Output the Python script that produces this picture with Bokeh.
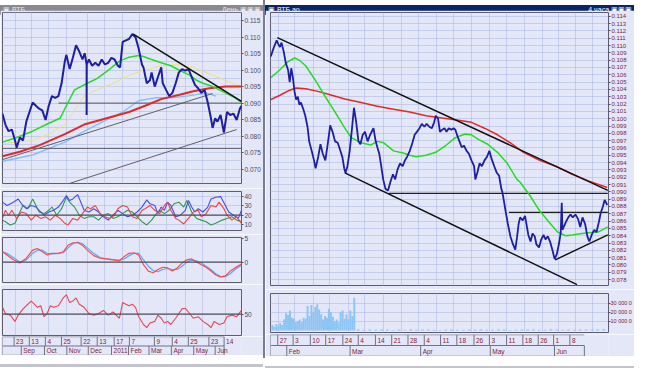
from bokeh.plotting import figure
from bokeh.models import Range1d, LinearAxis, FixedTicker, Grid, Span, Label, Div, NumeralTickFormatter
from bokeh.layouts import row, column
from bokeh.embed import file_html
from bokeh.resources import INLINE
from bokeh.core.properties import value

# ======================= DATA =======================
# ---- left window: daily chart (x = bar index) ----
L_PRICE = [(0,0.0868),(3,0.0835),(6.3,0.0815),(9.7,0.0820),(13,0.0787),(14.7,0.0765),(18,0.0796),(21.3,0.0787),
           (24.7,0.0844),(28,0.0873),(31.3,0.0902),(34.7,0.0892),(38,0.0883),(41.3,0.0878),(44.7,0.0849),(48,0.0892),
           (51.3,0.0921),(54.7,0.0916),(58,0.0921),(61.3,0.0960),(64.7,0.1027),(66.3,0.1046),(69.7,0.1003),(73,0.1037),
           (76.3,0.1075),(79.7,0.1056),(83,0.1032),(85.3,0.1051),(87.3,0.1017),(87.3,0.0864),(87.4,0.1017),(89.7,0.1032),
           (93,0.1013),(96.3,0.1022),(99.7,0.1013),(103,0.1032),(106.3,0.1017),(109.7,0.1022),(113,0.1037),(116.3,0.1032),
           (119.7,0.1013),(122,0.1008),(124.7,0.1085),(128,0.1090),(131.3,0.1094),(134.7,0.1109),(138,0.1099),(141.3,0.1065),
           (144.7,0.1017),(146.3,0.1008),(149.7,0.0960),(153,0.0969),(154.7,0.0993),(158,0.0950),(161.3,0.0979),(164.7,0.1008),
           (166.3,0.0960),(169.7,0.0940),(173,0.0921),(176.3,0.0931),(179.7,0.0960),(183,0.0993),(186.3,0.1003),(189.7,0.0998),
           (193,0.1003),(196.3,0.0979),(199.7,0.0955),(203,0.0945),(206.3,0.0931),(209.7,0.0940),(213,0.0902),(216.3,0.0854),
           (218,0.0825),(220.7,0.0854),(223,0.0844),(226.3,0.0864),(229.7,0.0811),(233,0.0873),(236.3,0.0864),(239.7,0.0868),
           (243,0.0849),(246.3,0.0883),(248,0.0892)]
L_GREEN = [(0,0.0782),(14.7,0.0796),(31.3,0.0815),(48,0.0839),(59.7,0.0854),(64.7,0.0883),(74.7,0.0940),(88,0.0960),
           (98,0.0974),(111.3,0.1003),(121.3,0.1027),(131.3,0.1039),(141.3,0.1044),(146.3,0.1041),(154.7,0.1032),
           (164.7,0.1022),(174.7,0.1013),(184.7,0.0998),(194.7,0.0984),(201.3,0.0969),(208,0.0960),(218,0.0950),
           (231.3,0.0931),(241.3,0.0916),(248,0.0902)]
L_YELLOW = [(0,0.0777),(14.7,0.0782),(31.3,0.0787),(48,0.0806),(64.7,0.0835),(74.7,0.0878),(84.7,0.0921),(98,0.0940),
            (114.7,0.0960),(131.3,0.0984),(144.7,0.0998),(164.7,0.1013),(184.7,0.1017),(198,0.1008),(214.7,0.0989),
            (231.3,0.0969),(248,0.0950)]
L_LBLUE = [(0,0.0724),(31.3,0.0743),(64.7,0.0782),(88,0.0820),(108,0.0849),(124.7,0.0873),(141.3,0.0907),(158,0.0916),
           (174.7,0.0916),(191.3,0.0921),(211.3,0.0931),(221.3,0.0921)]
L_RED = [(0,0.0739),(18,0.0753),(38,0.0772),(64.7,0.0806),(84.7,0.0835),(108,0.0854),(131.3,0.0873),(148,0.0892),
         (164.7,0.0912),(184.7,0.0926),(198,0.0936),(214.7,0.0945),(231.3,0.0950),(248,0.0950)]
L_RESIST = [(135.7, 0.1109, 248, 0.0905)]
L_SUPPORTS = [(0, 0.0729, 218, 0.0929), (69.7, 0.0657, 243, 0.0820)]
L_HLINES = [(58, 248, 0.0900), (0, 248, 0.0763)]
L_LAST = 0.08832
L_PRICE_TICKS = [0.070, 0.075, 0.080, 0.085, 0.090, 0.095, 0.100, 0.105, 0.110, 0.115]

O1_BLUE = [(0,33.8),(4.7,30.3),(11.3,33.8),(16.3,37.2),(19.7,32.1),(24.7,26.9),(29.7,30.3),(34.7,28.6),(38,25.2),(43,20),
           (48,23.4),(53,25.2),(58,28.6),(63,35.5),(66.3,40.7),(69.7,35.5),(73,37.2),(78,41.7),(81.3,33.8),(84.7,25.2),
           (89.7,23.4),(94.7,26.9),(99.7,23.4),(104.7,18.3),(109.7,14.8),(114.7,20),(119.7,25.2),(124.7,21.7),(129.7,18.3),
           (134.7,20),(139.7,23.4),(144.7,28.6),(149.7,36.2),(153,32.1),(158,30.3),(161.3,21.7),(164.7,28.6),(168,25.2),
           (171.3,33.8),(174.7,30.3),(179.7,18.3),(184.7,20),(189.7,25.2),(193,35.5),(196.3,28.6),(199.7,23.4),(203,26.9),
           (208,23.4),(213,28.6),(216.3,37.2),(221.3,39),(226.3,39.7),(231.3,30.3),(234.7,23.4),(239.7,20),(244.7,16.6),(248,25.2)]
O1_RED = [(0,16.6),(3,25.2),(6.3,20),(9.7,25.2),(14.7,16.6),(19.7,23.4),(24.7,21.7),(29.7,14.8),(34.7,20),(39.7,16.6),
          (44.7,18.3),(49.7,14.8),(54.7,20),(59.7,16.6),(64.7,11.4),(68,9.7),(73,16.6),(78,14.8),(83,21.7),(88,28.6),
          (91.3,26.9),(96.3,30.3),(101.3,21.7),(106.3,18.3),(111.3,16.6),(116.3,20),(119.7,26.9),(124.7,30.3),(129.7,28.6),
          (134.7,18.3),(139.7,16.6),(144.7,25.2),(148,26.9),(153,30.3),(158,25.2),(163,21.7),(168,30.3),(171.3,33.8),
          (174.7,25.2),(179.7,16.6),(183,14.8),(188,10.7),(193,16.6),(198,23.4),(203,25.2),(206.3,18.3),(211.3,21.7),
          (216.3,30.3),(221.3,28.6),(224.7,33.8),(229.7,26.9),(233,20),(238,14.8),(243,18.3),(248,11.4)]
O1_GREEN = [(0,14.8),(3,13.1),(8,9.7),(13,11.4),(18,23.4),(21.3,30.3),(26.3,26.9),(31.3,37.2),(34.7,30.3),(38,23.4),
            (43,21.7),(48,25.2),(51.3,28.6),(56.3,20),(61.3,26.9),(66.3,39),(69.7,33.8),(74.7,28.6),(79.7,20),(84.7,16.6),
            (89.7,18.3),(94.7,18.3),(99.7,14.8),(104.7,20),(109.7,21.7),(114.7,16.6),(119.7,18.3),(124.7,21.7),(129.7,25.2),
            (134.7,23.4),(139.7,18.3),(144.7,13.1),(149.7,9.7),(154.7,14.8),(159.7,21.7),(163,25.2),(168,21.7),(173,25.2),
            (178,32.1),(183,33.8),(188,28.6),(191.3,35.5),(196.3,23.4),(201.3,16.6),(206.3,14.8),(211.3,13.1),(216.3,9.7),
            (221.3,11.4),(228,14.8),(233,16.6),(238,18.3),(243,14.8),(248,13.1)]
O1_LEVEL = 20
O1_TICKS = [10, 20, 30, 40]

O2_RED = [(0,2.22),(4.7,1.53),(11.3,0.49),(18,-0.21),(24.7,0.83),(31.3,2.57),(36.3,2.92),(41.3,2.22),(46.3,1.53),
          (51.3,1.88),(58,1.88),(63,2.22),(68,3.61),(73,4.17),(78,4.17),(83,3.61),(88,2.57),(94.7,1.39),(101.3,0.83),
          (108,0.69),(114.7,0.49),(121.3,0.28),(126.3,1.18),(131.3,1.88),(136.3,2.01),(141.3,1.53),(146.3,-0.56),
          (151.3,-1.94),(156.3,-2.29),(161.3,-1.60),(166.3,-1.11),(171.3,-1.25),(176.3,-1.94),(181.3,-1.25),(186.3,-0.21),
          (191.3,0.49),(196.3,0.69),(201.3,0),(206.3,-0.56),(211.3,-1.11),(216.3,-1.94),(221.3,-2.78),(226.3,-3.19),
          (231.3,-2.99),(236.3,-1.94),(241.3,-1.25),(248,-0.42)]
O2_BLUE = [(0,2.22),(4.7,1.88),(11.3,0.97),(18,0),(24.7,0.49),(31.3,1.88),(36.3,2.57),(41.3,2.57),(46.3,1.88),
           (51.3,1.74),(58,1.88),(63,2.01),(68,3.06),(73,3.96),(78,4.31),(83,3.96),(88,3.06),(94.7,1.88),(101.3,0.97),
           (108,0.69),(114.7,0.56),(121.3,0.42),(126.3,0.69),(131.3,1.39),(136.3,1.88),(141.3,1.88),(146.3,0.49),
           (151.3,-0.90),(156.3,-1.81),(161.3,-2.08),(166.3,-1.60),(171.3,-1.39),(176.3,-1.60),(181.3,-1.60),(186.3,-0.90),
           (191.3,0),(196.3,0.42),(201.3,0.28),(206.3,-0.21),(211.3,-0.90),(216.3,-1.60),(221.3,-2.50),(226.3,-3.13),
           (231.3,-3.13),(236.3,-2.50),(241.3,-1.60),(248,-0.69)]
O2_LEVEL = 0
O2_TICKS = [0, 5]

O3_RED = [(0,65),(3,51.4),(8,48),(13,34.4),(16.3,48),(21.3,61.6),(24.7,68.4),(29.7,78.6),(33,71.8),(36.3,65),(39.7,68.4),
          (43,44.6),(46.3,51.4),(49.7,68.4),(53,65),(58,68.4),(63,85.4),(66.3,92.2),(69.7,75.2),(73,78.6),(76.3,85.4),
          (79.7,71.8),(84.7,65),(89.7,51.4),(94.7,48),(99.7,51.4),(104.7,58.2),(109.7,48),(114.7,54.8),(118,48),(121.3,41.2),
          (124.7,75.2),(128,71.8),(131.3,68.4),(134.7,71.8),(138,65),(141.3,44.6),(146.3,27.6),(149.7,20.7),(153,31),
          (158,34.4),(161.3,48),(164.7,41.2),(168,31),(171.3,34.4),(174.7,27.6),(179.7,41.2),(183,51.4),(186.3,61.6),
          (189.7,62.9),(193,54.8),(198,41.2),(203,44.6),(208,34.4),(213,27.6),(216.3,20.7),(219.7,34.4),(224.7,27.6),
          (229.7,31),(233,44.6),(238,48),(243,44.6),(248,58.2)]
O3_LEVEL = 50
O3_TICKS = [50]

L_DAY_TICKS = [13, 30, 48, 66, 88, 106, 125, 142, 170, 190, 208, 231, 248]
L_DAY_LABELS = ["23", "13", "4", "25", "22", "13", "17", "7", "9", "4", "25", "23", "14"]
L_MON_TICKS = [21, 47, 72, 96, 122, 141, 164, 189, 214, 238]
L_MON_LABELS = ["Sep", "Oct", "Nov", "Dec", "2011", "Feb", "Mar", "Apr", "May", "Jun"]

# ---- right window: 4-hour chart (x = bar index) ----
R_PRICE = [(0.3,0.1085),(3,0.1096),(6.3,0.1107),(8,0.1102),(9.7,0.1098),(11.3,0.1104),(13.7,0.1091),(15.7,0.1076),
           (18,0.1067),(19.7,0.1050),(21.3,0.1069),(23,0.1056),(24.7,0.1037),(26.3,0.1026),(28,0.1030),(29.7,0.1019),
           (31.3,0.1022),(33.7,0.1013),(35.7,0.1004),(38,0.0989),(39.7,0.0969),(42.3,0.0956),(44.7,0.0943),(46.3,0.0932),
           (49,0.0948),(51.3,0.0965),(53.7,0.0952),(56.3,0.0943),(58.7,0.0965),(61.3,0.0991),(63.7,0.0982),(66.3,0.0969),
           (69,0.0967),(71.3,0.0958),(73.7,0.0948),(75.7,0.0932),(77,0.0926),(79,0.0935),(81.3,0.0956),(83.7,0.0987),
           (85.7,0.1015),(88,0.0995),(90.3,0.0969),(92.3,0.0965),(94.7,0.0978),(97,0.0982),(99.7,0.0969),(102.3,0.0978),
           (105.7,0.0987),(108,0.0969),(109.7,0.0961),(111.7,0.0952),(113.7,0.0935),(115.7,0.0917),(118,0.0904),
           (120.7,0.0902),(123,0.0913),(125.7,0.0924),(128,0.0917),(130.3,0.0930),(133,0.0939),(135.7,0.0935),(138,0.0943),
           (140.3,0.0948),(143,0.0956),(145.7,0.0967),(148,0.0978),(150.3,0.0982),(153,0.0987),(155.3,0.0993),(158,0.0989),
           (160.3,0.0993),(163,0.0989),(165.7,0.0987),(168,0.0995),(169.7,0.1004),(172,0.1000),(174,0.0982),(176.3,0.0985),
           (178.7,0.0987),(180.7,0.0982),(183,0.0987),(185.7,0.0985),(188,0.0987),(189.7,0.0985),(192,0.0976),(194,0.0969),
           (196.3,0.0961),(198.7,0.0963),(201.3,0.0956),(203.7,0.0952),(206.3,0.0943),(209,0.0935),(210.3,0.0917),
           (212.3,0.0926),(214.7,0.0939),(217,0.0935),(219.7,0.0943),(222.3,0.0948),(224.7,0.0956),(227,0.0945),
           (229.7,0.0935),(232.3,0.0926),(234.7,0.0922),(237,0.0904),(238,0.0900),(239.7,0.0887),(241.3,0.0874),
           (243.7,0.0856),(246.3,0.0839),(249,0.0828),(251.3,0.0821),(253,0.0837),(254.7,0.0856),(256.3,0.0865),
           (259,0.0861),(261.3,0.0867),(263,0.0854),(264.7,0.0841),(267,0.0832),(269,0.0843),(271.3,0.0839),(273,0.0828),
           (275.7,0.0824),(278,0.0835),(280.3,0.0841),(282.3,0.0835),(284.7,0.0839),(287,0.0832),(289.7,0.0819),
           (291.7,0.0808),(294,0.0815),(296.3,0.0830),(298,0.0845),(299,0.0885),(299.7,0.0848),(303,0.0858),(305.7,0.0865),
           (308,0.0869),(310.3,0.0865),(313,0.0869),(315.7,0.0863),(318,0.0852),(320.3,0.0865),(323,0.0856),(325.3,0.0839),
           (327.3,0.0832),(329.7,0.0841),(332.3,0.0848),(334.7,0.0845),(337,0.0858),(339,0.0871),(341.3,0.0880),
           (343,0.0889),(345.7,0.0882)]
R_GREEN = [(0.3,0.1056),(9.7,0.1067),(18,0.1078),(24.7,0.1083),(29.7,0.1080),(36.3,0.1072),(46.3,0.1052),(56.3,0.1030),
           (66.3,0.1009),(76.3,0.0987),(83,0.0974),(93,0.0967),(103,0.0964),(109.7,0.0969),(116.3,0.0967),(126.3,0.0956),
           (136.3,0.0953),(143,0.0950),(149.7,0.0948),(159.7,0.0950),(169.7,0.0954),(179.7,0.0963),(189.7,0.0974),
           (199.7,0.0979),(206.3,0.0978),(213,0.0972),(223,0.0965),(233,0.0954),(243,0.0939),(253,0.0917),(256.3,0.0913),
           (266.3,0.0895),(276.3,0.0874),(286.3,0.0858),(294.7,0.0845),(303,0.0840),(309.7,0.0841),(319.7,0.0843),
           (326.3,0.0844),(336.3,0.0845),(346.3,0.0852)]
R_RED = [(0.3,0.1026),(9.7,0.1032),(19.7,0.1039),(26.3,0.1042),(36.3,0.1041),(49.7,0.1037),(63,0.1032),(76.3,0.1027),
         (93,0.1022),(109.7,0.1017),(126.3,0.1013),(143,0.1009),(159.7,0.1004),(176.3,0.1001),(193,0.0998),(206.3,0.0995),
         (219.7,0.0987),(233,0.0978),(246.3,0.0967),(259.7,0.0954),(276.3,0.0943),(293,0.0935),(309.7,0.0924),
         (326.3,0.0915),(345.7,0.0906)]
R_LINES = [(7, 0.1111, 346.3, 0.0902), (76.3, 0.0926, 314.7, 0.0773), (292.3, 0.0807, 346.3, 0.0841)]
R_HLINES = [(121.3, 346.3, 0.0898), (244.7, 346.3, 0.0872)]
R_LAST = 0.08832

R_VOL_X = [0, 2, 4, 6, 8, 10, 12, 14, 16, 18, 20, 22, 24, 26, 28, 30, 32, 34, 36, 38, 40, 42,
           44, 46, 48, 50, 52, 54, 56, 58, 60, 62, 64, 66, 68, 70, 72, 74, 76, 78, 80, 82, 84, 86]
R_VOL = [5, 6, 4, 7, 5, 8, 6, 12, 19, 17, 22, 14, 13, 9, 10, 12, 9, 14, 13, 27, 16, 28,
         20, 26, 29, 23, 18, 12, 16, 14, 24, 20, 15, 10, 12, 9, 20, 22, 13, 18, 12, 22, 16, 36]
R_VOL_TAIL_X = list(range(90, 343, 6))
R_VOL_TAIL = [1.2, 0.8, 1, 0.7, 1.1, 0.9, 0.6, 1, 0.8, 1.3, 0.7, 0.9, 1, 0.8, 0.6, 0.9, 1.1, 0.7, 0.8, 1, 0.9, 1.2,
              0.8, 0.7, 1, 0.9, 0.6, 0.8, 1.1, 0.9, 1, 0.7, 0.8, 1.2, 0.9, 0.8, 1, 0.7, 0.9, 1.1, 0.8, 1, 1.3]
R_VOL_TICKS = [10, 20, 30]
R_VOL_LABELS = {10: "10 000 0", 20: "20 000 0", 30: "30 000 0"}
R_VOL_LAST = "361 981"

R_DAY_TICKS = [8, 25, 44, 61, 80, 97, 116, 134, 152, 170, 188, 206, 225, 242, 261, 279, 296, 313, 331]
R_DAY_LABELS = ["27", "3", "10", "17", "24", "4", "14", "21", "28", "4", "11", "18", "26", "3", "11", "18", "26", "1", "8"]
R_MON_TICKS = [18, 88, 166, 243, 314]
R_MON_LABELS = ["Feb", "Mar", "Apr", "May", "Jun"]

# ======================= STYLE / LAYOUT =======================
SX = 634 / 650
SY = 358 / 374
def X(v): return int(round(v * SX))
def Y(v): return int(round(v * SY))

BG = "#e3e7f7"
GRID = "#a6b3e2"
FRAME = "#5c5c74"
FONT = "Liberation Sans"
LBL_GREY = "#4a4a66"
LBL_RED = "#7a1a40"


def xs(pts): return [a for a, b in pts]
def ys(pts): return [b for a, b in pts]


def base_fig(w, h, xr, yr, bl, br, bt, bb):
    p = figure(width=w, height=h, x_range=xr, y_range=yr, output_backend="svg",
               toolbar_location=None, x_axis_location=None, y_axis_location=None,
               min_border_left=bl, min_border_right=br, min_border_top=bt, min_border_bottom=bb)
    p.grid.visible = False
    p.background_fill_color = BG
    p.border_fill_color = BG
    p.outline_line_color = FRAME
    p.outline_line_width = 1
    return p


def right_axis(p, ticks, color, fmt=None, overrides=None, size="6.5px", standoff=1):
    ax = LinearAxis(ticker=FixedTicker(ticks=ticks), major_label_text_font_size=size,
                    major_label_text_color=color, major_label_text_font=FONT,
                    major_tick_out=2, major_tick_in=0, minor_tick_out=0, minor_tick_in=0,
                    axis_line_color=None, major_tick_line_color="#505060",
                    major_label_standoff=standoff)
    if fmt:
        ax.formatter = NumeralTickFormatter(format=fmt)
    if overrides:
        ax.major_label_overrides = overrides
    p.add_layout(ax, "right")


def grid(p, dim, ticks):
    p.add_layout(Grid(dimension=dim, ticker=FixedTicker(ticks=ticks), grid_line_color=GRID,
                      grid_line_dash="1 1", grid_line_width=1))


def last_label(p, x, y, text, size, fg, bg, border):
    p.add_layout(Label(x=x, y=y, text=text, x_offset=1, text_font=FONT, text_font_size=size,
                       text_color=fg, text_baseline="middle", text_align="left",
                       background_fill_color=bg, border_line_color=border, level="overlay"))


def strip(w, h, x_end_frame, frame_w_main, bl, day_t, day_l, mon_t, mon_l):
    frame_w = w - bl
    xr = Range1d(0, x_end_frame * frame_w / frame_w_main)
    p = base_fig(w, h, xr, Range1d(0, 2), bl, 0, 0, 0)
    p.outline_line_color = None
    p.segment(x0=[0, 0, 0], y0=[0.02, 1, 1.98], x1=[x_end_frame] * 3, y1=[0.02, 1, 1.98],
              line_color="#70708a", line_width=1)
    p.segment(x0=[0] + day_t, y0=1, x1=[0] + day_t, y1=2, line_color="#70708a", line_width=1)
    p.segment(x0=[0] + mon_t + [x_end_frame], y0=0, x1=[0] + mon_t + [x_end_frame], y1=1,
              line_color="#70708a", line_width=1)
    p.text(x=day_t, y=1.5, text=day_l, text_font=value(FONT), text_font_size=value("6.5px"),
           text_color="#8a1a3a", text_align="left", text_baseline="middle", x_offset=2)
    p.text(x=mon_t, y=0.5, text=mon_l, text_font=value(FONT), text_font_size=value("6.5px"),
           text_color="#8a1a3a", text_align="left", text_baseline="middle", x_offset=2)
    return p


def title_div(w, h, left, right, bg, fg):
    html = ('<div style="display:flex;justify-content:space-between;align-items:center;'
            f'width:{w}px;height:{h}px;background:{bg};color:{fg};font-family:Liberation Sans;'
            f'font-size:7px;line-height:{h}px;overflow:hidden;white-space:nowrap">'
            f'<span style="padding-left:3px">&#9635; {left}</span>'
            f'<span style="padding-right:2px">{right} &#9635;&#9635;&#9635;</span></div>')
    return Div(text=html, width=w, height=h, margin=0)


def plain_div(w, h, bg):
    return Div(text=f'<div style="width:{w}px;height:{h}px;background:{bg}"></div>', width=w, height=h, margin=0)


# ---------- left window ----------
WL = X(270)
BL_L = X(2)
BR_L = X(270) - X(250)
FW_L = WL - BL_L - BR_L
L_XMAX = 248

lp = base_fig(WL, Y(196) - Y(10), Range1d(0, L_XMAX), Range1d(0.06567, 0.11742),
              BL_L, BR_L, Y(12.3) - Y(10), Y(196) - Y(191.7))
grid(lp, 0, L_DAY_TICKS[:-1])
grid(lp, 1, [0.0675 + 0.0025 * i for i in range(21)])
right_axis(lp, L_PRICE_TICKS, LBL_GREY, fmt="0.000")
lp.line(xs(L_LBLUE), ys(L_LBLUE), line_color="#7fbfff", line_width=1.4)
lp.line(xs(L_YELLOW), ys(L_YELLOW), line_color="#ece27a", line_width=1)
lp.segment(x0=[s[0] for s in L_SUPPORTS], y0=[s[1] for s in L_SUPPORTS],
           x1=[s[2] for s in L_SUPPORTS], y1=[s[3] for s in L_SUPPORTS], line_color="#606068", line_width=1)
lp.segment(x0=[h[0] for h in L_HLINES], y0=[h[2] for h in L_HLINES],
           x1=[h[1] for h in L_HLINES], y1=[h[2] for h in L_HLINES], line_color="#55555f", line_width=1)
lp.line(xs(L_RED), ys(L_RED), line_color="#e42828", line_width=2)
lp.line(xs(L_GREEN), ys(L_GREEN), line_color="#22dd22", line_width=1.5)
lp.line(xs(L_PRICE), ys(L_PRICE), line_color="#1e1ea4", line_width=2)
lp.segment(x0=[s[0] for s in L_RESIST], y0=[s[1] for s in L_RESIST],
           x1=[s[2] for s in L_RESIST], y1=[s[3] for s in L_RESIST], line_color="#101010", line_width=1.5)
last_label(lp, L_XMAX, L_LAST, f"{L_LAST:.5f}", "5px", "#303070", "#f4f6ff", "#3040a0")

o1 = base_fig(WL, Y(244) - Y(196), Range1d(0, L_XMAX), Range1d(3.8, 45.1),
              BL_L, BR_L, Y(200) - Y(196), Y(244) - Y(240))
grid(o1, 0, L_DAY_TICKS[:-1])
grid(o1, 1, [10, 30, 40])
right_axis(o1, O1_TICKS, LBL_GREY)
o1.add_layout(Span(location=O1_LEVEL, dimension="width", line_color="#4a4a58", line_width=1.3))
o1.line(xs(O1_GREEN), ys(O1_GREEN), line_color="#2f9a50", line_width=1.1)
o1.line(xs(O1_BLUE), ys(O1_BLUE), line_color="#4a4af0", line_width=1.1)
o1.line(xs(O1_RED), ys(O1_RED), line_color="#ee4646", line_width=1.1)

o2 = base_fig(WL, Y(297) - Y(244), Range1d(0, L_XMAX), Range1d(-4.4, 5.3),
              BL_L, BR_L, Y(247.7) - Y(244), Y(297) - Y(294.3))
grid(o2, 0, L_DAY_TICKS[:-1])
right_axis(o2, O2_TICKS, LBL_GREY)
o2.add_layout(Span(location=O2_LEVEL, dimension="width", line_color="#4a4a58", line_width=1.3))
o2.line(xs(O2_BLUE), ys(O2_BLUE), line_color="#55aaff", line_width=1.2)
o2.line(xs(O2_RED), ys(O2_RED), line_color="#ff4a4a", line_width=1.2)

o3 = base_fig(WL, Y(351) - Y(297), Range1d(0, L_XMAX), Range1d(3.7, 103.7),
              BL_L, BR_L, Y(302) - Y(297), 1)
grid(o3, 0, L_DAY_TICKS[:-1])
right_axis(o3, O3_TICKS, LBL_GREY)
o3.add_layout(Span(location=O3_LEVEL, dimension="width", line_color="#4a4a58", line_width=1.3))
o3.line(xs(O3_RED), ys(O3_RED), line_color="#ee4455", line_width=1.1)

ls = strip(WL, Y(371) - Y(351), L_XMAX, FW_L, BL_L, L_DAY_TICKS, L_DAY_LABELS, L_MON_TICKS, L_MON_LABELS)

left_col = column(title_div(WL, Y(10), "ВТБ", "День", "#8a8a8e", "#e8e8e8"),
                  lp, o1, o2, o3, ls, plain_div(WL, 358 - Y(371), "#c4c4cc"), spacing=0)

# ---------- separator ----------
SEP = 2
sep = plain_div(SEP, 358, "#7c7c90")

# ---------- right window ----------
WR = 634 - WL - SEP
BL_R = X(277) - X(270) - SEP
BR_R = 26
FW_R = WR - BL_R - BR_R
R_XMAX = 347

rp = base_fig(WR, Y(302) - Y(10), Range1d(0, R_XMAX), Range1d(0.07719, 0.11452),
              BL_R, BR_R, 2, Y(302) - Y(298))
grid(rp, 0, R_DAY_TICKS)
R_PRICE_TICKS = [round(0.078 + 0.001 * i, 3) for i in range(37)]
grid(rp, 1, R_PRICE_TICKS)
right_axis(rp, R_PRICE_TICKS, LBL_RED, fmt="0.000", size="6px")
rp.segment(x0=[h[0] for h in R_HLINES], y0=[h[2] for h in R_HLINES],
           x1=[h[1] for h in R_HLINES], y1=[h[2] for h in R_HLINES], line_color="#202020", line_width=1.3)
rp.line(xs(R_RED), ys(R_RED), line_color="#e42828", line_width=1.5)
rp.line(xs(R_GREEN), ys(R_GREEN), line_color="#22dd22", line_width=1.5)
rp.line(xs(R_PRICE), ys(R_PRICE), line_color="#1e1ea4", line_width=1.8)
rp.segment(x0=[s[0] for s in R_LINES], y0=[s[1] for s in R_LINES],
           x1=[s[2] for s in R_LINES], y1=[s[3] for s in R_LINES], line_color="#101010", line_width=1.4)
last_label(rp, R_XMAX, R_LAST, f"{R_LAST:.5f}", "5.5px", "#303070", "#f4f6ff", "#3040a0")

rv = base_fig(WR, Y(349) - Y(302), Range1d(0, R_XMAX), Range1d(-2.3, 40.8),
              BL_R, BR_R, Y(305.7) - Y(302), Y(349) - Y(346.7))
grid(rv, 0, R_DAY_TICKS)
grid(rv, 1, R_VOL_TICKS)
right_axis(rv, R_VOL_TICKS, LBL_RED, overrides=R_VOL_LABELS, size="5.5px", standoff=0)
rv.vbar(x=R_VOL_X, top=R_VOL, bottom=0, width=2, fill_color="#8cc4f4", line_color=None)
rv.vbar(x=R_VOL_TAIL_X, top=R_VOL_TAIL, bottom=0, width=3, fill_color="#8cc4f4", line_color=None)
last_label(rv, R_XMAX, 0, R_VOL_LAST, "5.5px", "#2050c0", "#b8d8f8", "#3060c0")

rs = strip(WR, Y(372) - Y(349), R_XMAX, FW_R, BL_R, R_DAY_TICKS, R_DAY_LABELS, R_MON_TICKS, R_MON_LABELS)

right_col = column(title_div(WR, Y(10), "ВТБ ао", "4 часа", "#0a246a", "#ffffff"),
                   rp, rv, rs, plain_div(WR, 358 - Y(372), "#c4c4cc"), spacing=0)

layout = row(left_col, sep, right_col, spacing=0)

open("out.html", "w").write(file_html(layout, INLINE))
